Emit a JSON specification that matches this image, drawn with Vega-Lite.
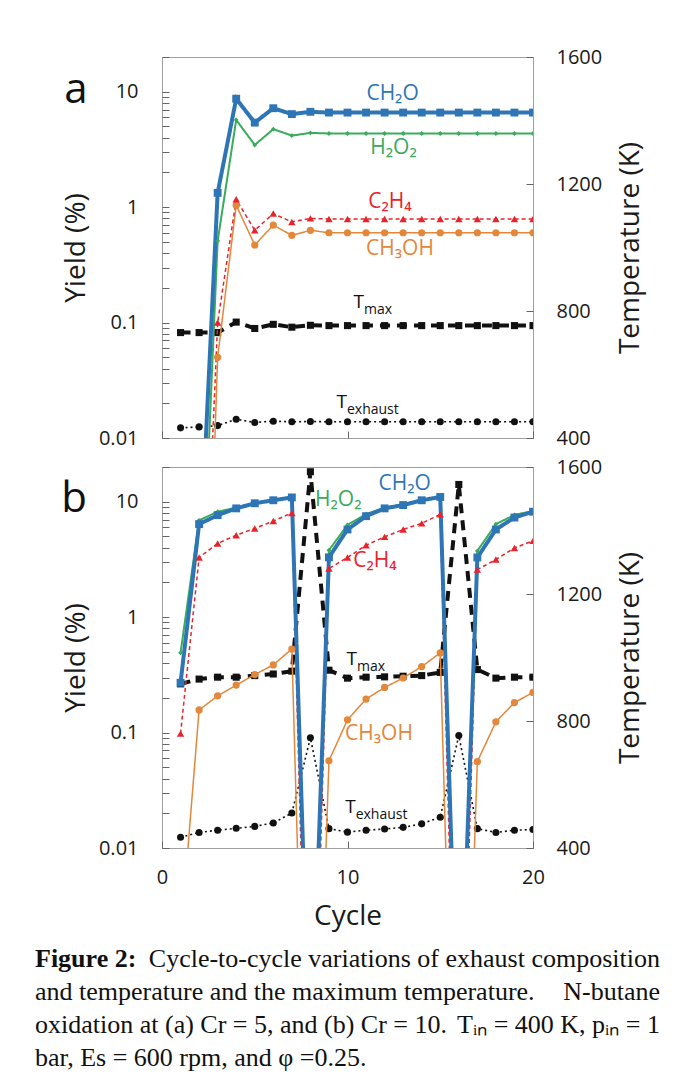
{
  "$schema": "https://vega.github.io/schema/vega-lite/v6.json",
  "background": "white",
  "padding": {"left": 35, "top": 46, "right": 0, "bottom": 0},
  "config": {
    "font": "Open Sans",
    "view": {"stroke": "#a0a0a0", "strokeWidth": 1},
    "legend": {"disable": true},
    "axis": {
      "grid": false, "domain": false, "tickColor": "#666666", "tickWidth": 1, "tickSize": 7, "offset": -7,
      "labelFont": "Open Sans", "labelFontSize": 20, "labelColor": "#1a1a1a", "labelFlush": false, "labelOverlap": false,
      "titleFont": "Open Sans", "titleFontSize": 28, "titleFontWeight": "normal", "titleColor": "#1a1a1a"
    }
  },
  "bounds": "flush",
  "spacing": 29,
  "vconcat": [
    {
      "width": 371, "height": 381,
      "layer": [
        {
          "data": {"name": "temps"},
          "transform": [{"filter": "datum.panel == 'a'"}],
          "encoding": {
            "x": {"field": "cycle", "type": "quantitative", "scale": {"domain": [0, 20], "nice": false}, "axis": {"orient": "bottom", "values": [0, 10, 20], "labels": false, "title": null}},
            "y": {"field": "kelvin", "type": "quantitative", "scale": {"domain": [400, 1600], "nice": false, "zero": false}, "axis": {"orient": "right", "values": [400, 800, 1200, 1600], "format": "d", "title": "Temperature (K)", "titleAngle": 270, "titleBaseline": "top", "labelPadding": 23, "titlePadding": 15}},
            "color": {"field": "series", "type": "nominal", "scale": {"domain": ["CH3OH", "C2H4", "H2O2", "CH2O", "Tmax", "Texhaust"], "range": ["#E3873B", "#E8232B", "#3AAA5C", "#2E75B6", "#111111", "#111111"]}}
          },
          "layer": [
            {"mark": {"type": "line", "clip": true}, "encoding": {
              "strokeWidth": {"condition": [{"test": "datum.series == 'Tmax'", "value": 4}], "value": 1.6},
              "strokeDash": {"condition": [{"test": "datum.series == 'Tmax'", "value": [10, 7]}], "value": [2, 3]}
            }},
            {"mark": {"type": "point", "filled": true, "opacity": 1, "clip": true}, "encoding": {
              "shape": {"condition": [{"test": "datum.series == 'Tmax'", "value": "square"}], "value": "circle"},
              "size": {"value": 50}
            }}
          ]
        },
        {
          "encoding": {
            "x": {"field": "cycle", "type": "quantitative"},
            "y": {"field": "value", "type": "quantitative", "scale": {"type": "log", "domain": [0.01, 20], "nice": false}, "axis": {"orient": "left", "values": [0.01, 0.02, 0.03, 0.04, 0.05, 0.06, 0.07, 0.08, 0.09, 0.1, 0.2, 0.3, 0.4, 0.5, 0.6, 0.7, 0.8, 0.9, 1, 2, 3, 4, 5, 6, 7, 8, 9, 10, 20], "labelExpr": "datum.value == 0.01 ? '0.01' : datum.value == 0.1 ? '0.1' : datum.value == 1 ? '1' : datum.value == 10 ? '10' : ''", "title": "Yield (%)", "labelPadding": 24, "titlePadding": 8}}
          },
          "layer": [
            {"data": {"name": "yields"}, "transform": [{"filter": "datum.panel == 'a'"}], "mark": {"type": "line", "clip": true}, "encoding": {
              "color": {"field": "series", "type": "nominal"},
              "strokeWidth": {"condition": [{"test": "datum.series == 'CH2O'", "value": 4}, {"test": "datum.series == 'H2O2'", "value": 2}], "value": 1.5},
              "strokeDash": {"condition": [{"test": "datum.series == 'C2H4'", "value": [4, 3]}], "value": [1, 0]}
            }},
            {"data": {"name": "yields"}, "transform": [{"filter": "datum.panel == 'a'"}], "mark": {"type": "point", "filled": true, "opacity": 1, "clip": true}, "encoding": {
              "color": {"field": "series", "type": "nominal"},
              "shape": {"condition": [{"test": "datum.series == 'CH2O'", "value": "square"}, {"test": "datum.series == 'C2H4'", "value": "triangle-up"}, {"test": "datum.series == 'H2O2'", "value": "diamond"}], "value": "circle"},
              "size": {"condition": [{"test": "datum.series == 'H2O2'", "value": 24}, {"test": "datum.series == 'CH2O'", "value": 62}, {"test": "datum.series == 'C2H4'", "value": 55}], "value": 52}
            }},
            {"data": {"name": "labels"}, "transform": [{"filter": "datum.panel == 'a' && datum.kind == 'chem'"}], "mark": {"type": "text", "fontSize": 21, "align": "center", "baseline": "middle"}, "encoding": {
              "text": {"field": "text"}, "color": {"field": "series", "type": "nominal"}
            }},
            {"data": {"name": "labels"}, "transform": [{"filter": "datum.panel == 'a' && datum.kind == 'temp'"}], "mark": {"type": "text", "fontSize": 19, "align": "right", "baseline": "middle", "color": "#111111"}, "encoding": {
              "text": {"field": "text"}
            }},
            {"data": {"name": "labels"}, "transform": [{"filter": "datum.panel == 'a' && datum.kind == 'temp'"}], "mark": {"type": "text", "fontSize": 14, "align": "left", "baseline": "middle", "dy": 8, "color": "#111111"}, "encoding": {
              "text": {"field": "sub"}
            }},
            {"data": {"name": "labels"}, "transform": [{"filter": "datum.panel == 'a' && datum.kind == 'panel'"}], "mark": {"type": "text", "fontSize": 42, "align": "center", "baseline": "alphabetic", "color": "#111111"}, "encoding": {
              "text": {"field": "text"}
            }}
          ]
        }
      ],
      "resolve": {"scale": {"y": "independent"}}
    },
    {
      "width": 371, "height": 381,
      "layer": [
        {
          "data": {"name": "temps"},
          "transform": [{"filter": "datum.panel == 'b'"}],
          "encoding": {
            "x": {"field": "cycle", "type": "quantitative", "scale": {"domain": [0, 20], "nice": false}, "axis": {"orient": "bottom", "values": [0, 10, 20], "title": "Cycle", "labelPadding": 19, "titlePadding": 15}},
            "y": {"field": "kelvin", "type": "quantitative", "scale": {"domain": [400, 1600], "nice": false, "zero": false}, "axis": {"orient": "right", "values": [400, 800, 1200, 1600], "format": "d", "title": "Temperature (K)", "titleAngle": 270, "titleBaseline": "top", "labelPadding": 23, "titlePadding": 15}},
            "color": {"field": "series", "type": "nominal", "scale": {"domain": ["CH3OH", "C2H4", "H2O2", "CH2O", "Tmax", "Texhaust"], "range": ["#E3873B", "#E8232B", "#3AAA5C", "#2E75B6", "#111111", "#111111"]}}
          },
          "layer": [
            {"mark": {"type": "line", "clip": true}, "encoding": {
              "strokeWidth": {"condition": [{"test": "datum.series == 'Tmax'", "value": 4}], "value": 1.6},
              "strokeDash": {"condition": [{"test": "datum.series == 'Tmax'", "value": [10, 7]}], "value": [2, 3]}
            }},
            {"mark": {"type": "point", "filled": true, "opacity": 1, "clip": true}, "encoding": {
              "shape": {"condition": [{"test": "datum.series == 'Tmax'", "value": "square"}], "value": "circle"},
              "size": {"value": 50}
            }}
          ]
        },
        {
          "encoding": {
            "x": {"field": "cycle", "type": "quantitative"},
            "y": {"field": "value", "type": "quantitative", "scale": {"type": "log", "domain": [0.01, 20], "nice": false}, "axis": {"orient": "left", "values": [0.01, 0.02, 0.03, 0.04, 0.05, 0.06, 0.07, 0.08, 0.09, 0.1, 0.2, 0.3, 0.4, 0.5, 0.6, 0.7, 0.8, 0.9, 1, 2, 3, 4, 5, 6, 7, 8, 9, 10, 20], "labelExpr": "datum.value == 0.01 ? '0.01' : datum.value == 0.1 ? '0.1' : datum.value == 1 ? '1' : datum.value == 10 ? '10' : ''", "title": "Yield (%)", "labelPadding": 24, "titlePadding": 8}}
          },
          "layer": [
            {"data": {"name": "yields"}, "transform": [{"filter": "datum.panel == 'b'"}], "mark": {"type": "line", "clip": true}, "encoding": {
              "color": {"field": "series", "type": "nominal"},
              "strokeWidth": {"condition": [{"test": "datum.series == 'CH2O'", "value": 4}, {"test": "datum.series == 'H2O2'", "value": 2}], "value": 1.5},
              "strokeDash": {"condition": [{"test": "datum.series == 'C2H4'", "value": [4, 3]}], "value": [1, 0]}
            }},
            {"data": {"name": "yields"}, "transform": [{"filter": "datum.panel == 'b'"}], "mark": {"type": "point", "filled": true, "opacity": 1, "clip": true}, "encoding": {
              "color": {"field": "series", "type": "nominal"},
              "shape": {"condition": [{"test": "datum.series == 'CH2O'", "value": "square"}, {"test": "datum.series == 'C2H4'", "value": "triangle-up"}, {"test": "datum.series == 'H2O2'", "value": "diamond"}], "value": "circle"},
              "size": {"condition": [{"test": "datum.series == 'H2O2'", "value": 24}, {"test": "datum.series == 'CH2O'", "value": 62}, {"test": "datum.series == 'C2H4'", "value": 55}], "value": 52}
            }},
            {"data": {"name": "labels"}, "transform": [{"filter": "datum.panel == 'b' && datum.kind == 'chem'"}], "mark": {"type": "text", "fontSize": 21, "align": "center", "baseline": "middle"}, "encoding": {
              "text": {"field": "text"}, "color": {"field": "series", "type": "nominal"}
            }},
            {"data": {"name": "labels"}, "transform": [{"filter": "datum.panel == 'b' && datum.kind == 'temp'"}], "mark": {"type": "text", "fontSize": 19, "align": "right", "baseline": "middle", "color": "#111111"}, "encoding": {
              "text": {"field": "text"}
            }},
            {"data": {"name": "labels"}, "transform": [{"filter": "datum.panel == 'b' && datum.kind == 'temp'"}], "mark": {"type": "text", "fontSize": 14, "align": "left", "baseline": "middle", "dy": 8, "color": "#111111"}, "encoding": {
              "text": {"field": "sub"}
            }},
            {"data": {"name": "labels"}, "transform": [{"filter": "datum.panel == 'b' && datum.kind == 'panel'"}], "mark": {"type": "text", "fontSize": 42, "align": "center", "baseline": "alphabetic", "color": "#111111"}, "encoding": {
              "text": {"field": "text"}
            }}
          ]
        }
      ],
      "resolve": {"scale": {"y": "independent"}}
    },
    {
      "width": 498, "height": 190,
      "view": {"stroke": null},
      "data": {"name": "caption"},
      "encoding": {
        "x": {"field": "edge", "type": "nominal", "axis": null, "scale": {"type": "point", "domain": ["start", "end"], "range": [-127, 498], "padding": 0}},
        "y": {"field": "line", "type": "ordinal", "axis": null, "scale": {"type": "point", "domain": [1, 2, 3, 4], "range": [82, 181], "padding": 0}},
        "text": {"field": "text"}
      },
      "layer": [
        {"transform": [{"filter": "datum.role == 'heading'"}], "mark": {"type": "text", "align": "left", "baseline": "middle", "font": "Liberation Serif", "fontSize": 26, "fontWeight": "bold", "color": "#111111"}},
        {"transform": [{"filter": "datum.role == 'body' && datum.edge == 'start'"}], "mark": {"type": "text", "align": "left", "baseline": "middle", "font": "Liberation Serif", "fontSize": 26, "color": "#111111"}},
        {"transform": [{"filter": "datum.role == 'body' && datum.edge == 'end'"}], "mark": {"type": "text", "align": "right", "baseline": "middle", "font": "Liberation Serif", "fontSize": 26, "color": "#111111"}}
      ]
    }
  ],
  "datasets": {
    "yields": [
      {"panel": "a", "series": "CH3OH", "cycle": 1, "value": 0.000001}, {"panel": "a", "series": "CH3OH", "cycle": 2, "value": 0.000001}, {"panel": "a", "series": "CH3OH", "cycle": 3, "value": 0.05}, {"panel": "a", "series": "CH3OH", "cycle": 4, "value": 1.04}, {"panel": "a", "series": "CH3OH", "cycle": 5, "value": 0.47}, {"panel": "a", "series": "CH3OH", "cycle": 6, "value": 0.70}, {"panel": "a", "series": "CH3OH", "cycle": 7, "value": 0.57}, {"panel": "a", "series": "CH3OH", "cycle": 8, "value": 0.63}, {"panel": "a", "series": "CH3OH", "cycle": 9, "value": 0.60}, {"panel": "a", "series": "CH3OH", "cycle": 10, "value": 0.60}, {"panel": "a", "series": "CH3OH", "cycle": 11, "value": 0.60}, {"panel": "a", "series": "CH3OH", "cycle": 12, "value": 0.60}, {"panel": "a", "series": "CH3OH", "cycle": 13, "value": 0.60}, {"panel": "a", "series": "CH3OH", "cycle": 14, "value": 0.60}, {"panel": "a", "series": "CH3OH", "cycle": 15, "value": 0.60}, {"panel": "a", "series": "CH3OH", "cycle": 16, "value": 0.60}, {"panel": "a", "series": "CH3OH", "cycle": 17, "value": 0.60}, {"panel": "a", "series": "CH3OH", "cycle": 18, "value": 0.60}, {"panel": "a", "series": "CH3OH", "cycle": 19, "value": 0.60}, {"panel": "a", "series": "CH3OH", "cycle": 20, "value": 0.60},
      {"panel": "a", "series": "C2H4", "cycle": 1, "value": 0.00001}, {"panel": "a", "series": "C2H4", "cycle": 2, "value": 0.00002}, {"panel": "a", "series": "C2H4", "cycle": 3, "value": 0.1}, {"panel": "a", "series": "C2H4", "cycle": 4, "value": 1.17}, {"panel": "a", "series": "C2H4", "cycle": 5, "value": 0.63}, {"panel": "a", "series": "C2H4", "cycle": 6, "value": 0.88}, {"panel": "a", "series": "C2H4", "cycle": 7, "value": 0.745}, {"panel": "a", "series": "C2H4", "cycle": 8, "value": 0.80}, {"panel": "a", "series": "C2H4", "cycle": 9, "value": 0.79}, {"panel": "a", "series": "C2H4", "cycle": 10, "value": 0.79}, {"panel": "a", "series": "C2H4", "cycle": 11, "value": 0.79}, {"panel": "a", "series": "C2H4", "cycle": 12, "value": 0.79}, {"panel": "a", "series": "C2H4", "cycle": 13, "value": 0.79}, {"panel": "a", "series": "C2H4", "cycle": 14, "value": 0.79}, {"panel": "a", "series": "C2H4", "cycle": 15, "value": 0.79}, {"panel": "a", "series": "C2H4", "cycle": 16, "value": 0.79}, {"panel": "a", "series": "C2H4", "cycle": 17, "value": 0.79}, {"panel": "a", "series": "C2H4", "cycle": 18, "value": 0.79}, {"panel": "a", "series": "C2H4", "cycle": 19, "value": 0.79}, {"panel": "a", "series": "C2H4", "cycle": 20, "value": 0.79},
      {"panel": "a", "series": "H2O2", "cycle": 1, "value": 0.0001}, {"panel": "a", "series": "H2O2", "cycle": 2, "value": 0.0001}, {"panel": "a", "series": "H2O2", "cycle": 3, "value": 0.51}, {"panel": "a", "series": "H2O2", "cycle": 4, "value": 5.7}, {"panel": "a", "series": "H2O2", "cycle": 5, "value": 3.46}, {"panel": "a", "series": "H2O2", "cycle": 6, "value": 4.74}, {"panel": "a", "series": "H2O2", "cycle": 7, "value": 4.17}, {"panel": "a", "series": "H2O2", "cycle": 8, "value": 4.4}, {"panel": "a", "series": "H2O2", "cycle": 9, "value": 4.35}, {"panel": "a", "series": "H2O2", "cycle": 10, "value": 4.35}, {"panel": "a", "series": "H2O2", "cycle": 11, "value": 4.35}, {"panel": "a", "series": "H2O2", "cycle": 12, "value": 4.35}, {"panel": "a", "series": "H2O2", "cycle": 13, "value": 4.35}, {"panel": "a", "series": "H2O2", "cycle": 14, "value": 4.35}, {"panel": "a", "series": "H2O2", "cycle": 15, "value": 4.35}, {"panel": "a", "series": "H2O2", "cycle": 16, "value": 4.35}, {"panel": "a", "series": "H2O2", "cycle": 17, "value": 4.35}, {"panel": "a", "series": "H2O2", "cycle": 18, "value": 4.35}, {"panel": "a", "series": "H2O2", "cycle": 19, "value": 4.35}, {"panel": "a", "series": "H2O2", "cycle": 20, "value": 4.35},
      {"panel": "a", "series": "CH2O", "cycle": 1, "value": 0.0001}, {"panel": "a", "series": "CH2O", "cycle": 2, "value": 0.0006}, {"panel": "a", "series": "CH2O", "cycle": 3, "value": 1.33}, {"panel": "a", "series": "CH2O", "cycle": 4, "value": 8.7}, {"panel": "a", "series": "CH2O", "cycle": 5, "value": 5.4}, {"panel": "a", "series": "CH2O", "cycle": 6, "value": 7.2}, {"panel": "a", "series": "CH2O", "cycle": 7, "value": 6.4}, {"panel": "a", "series": "CH2O", "cycle": 8, "value": 6.7}, {"panel": "a", "series": "CH2O", "cycle": 9, "value": 6.6}, {"panel": "a", "series": "CH2O", "cycle": 10, "value": 6.6}, {"panel": "a", "series": "CH2O", "cycle": 11, "value": 6.6}, {"panel": "a", "series": "CH2O", "cycle": 12, "value": 6.6}, {"panel": "a", "series": "CH2O", "cycle": 13, "value": 6.6}, {"panel": "a", "series": "CH2O", "cycle": 14, "value": 6.6}, {"panel": "a", "series": "CH2O", "cycle": 15, "value": 6.6}, {"panel": "a", "series": "CH2O", "cycle": 16, "value": 6.6}, {"panel": "a", "series": "CH2O", "cycle": 17, "value": 6.6}, {"panel": "a", "series": "CH2O", "cycle": 18, "value": 6.6}, {"panel": "a", "series": "CH2O", "cycle": 19, "value": 6.6}, {"panel": "a", "series": "CH2O", "cycle": 20, "value": 6.6},
      {"panel": "b", "series": "CH3OH", "cycle": 1, "value": 0.0016}, {"panel": "b", "series": "CH3OH", "cycle": 2, "value": 0.157}, {"panel": "b", "series": "CH3OH", "cycle": 3, "value": 0.208}, {"panel": "b", "series": "CH3OH", "cycle": 4, "value": 0.258}, {"panel": "b", "series": "CH3OH", "cycle": 5, "value": 0.318}, {"panel": "b", "series": "CH3OH", "cycle": 6, "value": 0.386}, {"panel": "b", "series": "CH3OH", "cycle": 7, "value": 0.53}, {"panel": "b", "series": "CH3OH", "cycle": 8, "value": 0.000001}, {"panel": "b", "series": "CH3OH", "cycle": 9, "value": 0.057}, {"panel": "b", "series": "CH3OH", "cycle": 10, "value": 0.129}, {"panel": "b", "series": "CH3OH", "cycle": 11, "value": 0.195}, {"panel": "b", "series": "CH3OH", "cycle": 12, "value": 0.246}, {"panel": "b", "series": "CH3OH", "cycle": 13, "value": 0.297}, {"panel": "b", "series": "CH3OH", "cycle": 14, "value": 0.373}, {"panel": "b", "series": "CH3OH", "cycle": 15, "value": 0.49}, {"panel": "b", "series": "CH3OH", "cycle": 16, "value": 0.000001}, {"panel": "b", "series": "CH3OH", "cycle": 17, "value": 0.056}, {"panel": "b", "series": "CH3OH", "cycle": 18, "value": 0.124}, {"panel": "b", "series": "CH3OH", "cycle": 19, "value": 0.182}, {"panel": "b", "series": "CH3OH", "cycle": 20, "value": 0.223},
      {"panel": "b", "series": "C2H4", "cycle": 1, "value": 0.098}, {"panel": "b", "series": "C2H4", "cycle": 2, "value": 3.29}, {"panel": "b", "series": "C2H4", "cycle": 3, "value": 4.35}, {"panel": "b", "series": "C2H4", "cycle": 4, "value": 5.13}, {"panel": "b", "series": "C2H4", "cycle": 5, "value": 5.87}, {"panel": "b", "series": "C2H4", "cycle": 6, "value": 6.8}, {"panel": "b", "series": "C2H4", "cycle": 7, "value": 8.0}, {"panel": "b", "series": "C2H4", "cycle": 8, "value": 0.00001}, {"panel": "b", "series": "C2H4", "cycle": 9, "value": 2.64}, {"panel": "b", "series": "C2H4", "cycle": 10, "value": 3.29}, {"panel": "b", "series": "C2H4", "cycle": 11, "value": 4.2}, {"panel": "b", "series": "C2H4", "cycle": 12, "value": 4.96}, {"panel": "b", "series": "C2H4", "cycle": 13, "value": 5.75}, {"panel": "b", "series": "C2H4", "cycle": 14, "value": 6.5}, {"panel": "b", "series": "C2H4", "cycle": 15, "value": 7.77}, {"panel": "b", "series": "C2H4", "cycle": 16, "value": 0.00001}, {"panel": "b", "series": "C2H4", "cycle": 17, "value": 2.58}, {"panel": "b", "series": "C2H4", "cycle": 18, "value": 3.16}, {"panel": "b", "series": "C2H4", "cycle": 19, "value": 3.98}, {"panel": "b", "series": "C2H4", "cycle": 20, "value": 4.58},
      {"panel": "b", "series": "H2O2", "cycle": 1, "value": 0.49}, {"panel": "b", "series": "H2O2", "cycle": 2, "value": 6.9}, {"panel": "b", "series": "H2O2", "cycle": 3, "value": 8.2}, {"panel": "b", "series": "H2O2", "cycle": 4, "value": 8.9}, {"panel": "b", "series": "H2O2", "cycle": 5, "value": 9.7}, {"panel": "b", "series": "H2O2", "cycle": 6, "value": 10.3}, {"panel": "b", "series": "H2O2", "cycle": 7, "value": 10.9}, {"panel": "b", "series": "H2O2", "cycle": 8, "value": 0.0001}, {"panel": "b", "series": "H2O2", "cycle": 9, "value": 3.8}, {"panel": "b", "series": "H2O2", "cycle": 10, "value": 6.3}, {"panel": "b", "series": "H2O2", "cycle": 11, "value": 7.8}, {"panel": "b", "series": "H2O2", "cycle": 12, "value": 8.9}, {"panel": "b", "series": "H2O2", "cycle": 13, "value": 9.5}, {"panel": "b", "series": "H2O2", "cycle": 14, "value": 10.3}, {"panel": "b", "series": "H2O2", "cycle": 15, "value": 11.0}, {"panel": "b", "series": "H2O2", "cycle": 16, "value": 0.0001}, {"panel": "b", "series": "H2O2", "cycle": 17, "value": 3.75}, {"panel": "b", "series": "H2O2", "cycle": 18, "value": 6.4}, {"panel": "b", "series": "H2O2", "cycle": 19, "value": 7.7}, {"panel": "b", "series": "H2O2", "cycle": 20, "value": 8.3},
      {"panel": "b", "series": "CH2O", "cycle": 1, "value": 0.27}, {"panel": "b", "series": "CH2O", "cycle": 2, "value": 6.4}, {"panel": "b", "series": "CH2O", "cycle": 3, "value": 7.66}, {"panel": "b", "series": "CH2O", "cycle": 4, "value": 8.76}, {"panel": "b", "series": "CH2O", "cycle": 5, "value": 9.7}, {"panel": "b", "series": "CH2O", "cycle": 6, "value": 10.3}, {"panel": "b", "series": "CH2O", "cycle": 7, "value": 10.9}, {"panel": "b", "series": "CH2O", "cycle": 8, "value": 0.0001}, {"panel": "b", "series": "CH2O", "cycle": 9, "value": 3.3}, {"panel": "b", "series": "CH2O", "cycle": 10, "value": 5.75}, {"panel": "b", "series": "CH2O", "cycle": 11, "value": 7.5}, {"panel": "b", "series": "CH2O", "cycle": 12, "value": 8.76}, {"panel": "b", "series": "CH2O", "cycle": 13, "value": 9.36}, {"panel": "b", "series": "CH2O", "cycle": 14, "value": 10.3}, {"panel": "b", "series": "CH2O", "cycle": 15, "value": 11.0}, {"panel": "b", "series": "CH2O", "cycle": 16, "value": 0.0001}, {"panel": "b", "series": "CH2O", "cycle": 17, "value": 3.29}, {"panel": "b", "series": "CH2O", "cycle": 18, "value": 5.75}, {"panel": "b", "series": "CH2O", "cycle": 19, "value": 7.3}, {"panel": "b", "series": "CH2O", "cycle": 20, "value": 8.2}
    ],
    "temps": [
      {"panel": "a", "series": "Tmax", "cycle": 1, "kelvin": 732}, {"panel": "a", "series": "Tmax", "cycle": 2, "kelvin": 732}, {"panel": "a", "series": "Tmax", "cycle": 3, "kelvin": 732}, {"panel": "a", "series": "Tmax", "cycle": 4, "kelvin": 765}, {"panel": "a", "series": "Tmax", "cycle": 5, "kelvin": 745}, {"panel": "a", "series": "Tmax", "cycle": 6, "kelvin": 758}, {"panel": "a", "series": "Tmax", "cycle": 7, "kelvin": 749}, {"panel": "a", "series": "Tmax", "cycle": 8, "kelvin": 755}, {"panel": "a", "series": "Tmax", "cycle": 9, "kelvin": 754}, {"panel": "a", "series": "Tmax", "cycle": 10, "kelvin": 754}, {"panel": "a", "series": "Tmax", "cycle": 11, "kelvin": 754}, {"panel": "a", "series": "Tmax", "cycle": 12, "kelvin": 754}, {"panel": "a", "series": "Tmax", "cycle": 13, "kelvin": 754}, {"panel": "a", "series": "Tmax", "cycle": 14, "kelvin": 754}, {"panel": "a", "series": "Tmax", "cycle": 15, "kelvin": 754}, {"panel": "a", "series": "Tmax", "cycle": 16, "kelvin": 754}, {"panel": "a", "series": "Tmax", "cycle": 17, "kelvin": 754}, {"panel": "a", "series": "Tmax", "cycle": 18, "kelvin": 754}, {"panel": "a", "series": "Tmax", "cycle": 19, "kelvin": 754}, {"panel": "a", "series": "Tmax", "cycle": 20, "kelvin": 754},
      {"panel": "a", "series": "Texhaust", "cycle": 1, "kelvin": 432}, {"panel": "a", "series": "Texhaust", "cycle": 2, "kelvin": 435}, {"panel": "a", "series": "Texhaust", "cycle": 3, "kelvin": 439}, {"panel": "a", "series": "Texhaust", "cycle": 4, "kelvin": 459}, {"panel": "a", "series": "Texhaust", "cycle": 5, "kelvin": 449}, {"panel": "a", "series": "Texhaust", "cycle": 6, "kelvin": 453}, {"panel": "a", "series": "Texhaust", "cycle": 7, "kelvin": 451}, {"panel": "a", "series": "Texhaust", "cycle": 8, "kelvin": 452}, {"panel": "a", "series": "Texhaust", "cycle": 9, "kelvin": 451}, {"panel": "a", "series": "Texhaust", "cycle": 10, "kelvin": 451}, {"panel": "a", "series": "Texhaust", "cycle": 11, "kelvin": 451}, {"panel": "a", "series": "Texhaust", "cycle": 12, "kelvin": 451}, {"panel": "a", "series": "Texhaust", "cycle": 13, "kelvin": 451}, {"panel": "a", "series": "Texhaust", "cycle": 14, "kelvin": 451}, {"panel": "a", "series": "Texhaust", "cycle": 15, "kelvin": 451}, {"panel": "a", "series": "Texhaust", "cycle": 16, "kelvin": 451}, {"panel": "a", "series": "Texhaust", "cycle": 17, "kelvin": 451}, {"panel": "a", "series": "Texhaust", "cycle": 18, "kelvin": 451}, {"panel": "a", "series": "Texhaust", "cycle": 19, "kelvin": 451}, {"panel": "a", "series": "Texhaust", "cycle": 20, "kelvin": 451},
      {"panel": "b", "series": "Tmax", "cycle": 1, "kelvin": 917}, {"panel": "b", "series": "Tmax", "cycle": 2, "kelvin": 932}, {"panel": "b", "series": "Tmax", "cycle": 3, "kelvin": 938}, {"panel": "b", "series": "Tmax", "cycle": 4, "kelvin": 938}, {"panel": "b", "series": "Tmax", "cycle": 5, "kelvin": 943}, {"panel": "b", "series": "Tmax", "cycle": 6, "kelvin": 948}, {"panel": "b", "series": "Tmax", "cycle": 7, "kelvin": 957}, {"panel": "b", "series": "Tmax", "cycle": 8, "kelvin": 1585}, {"panel": "b", "series": "Tmax", "cycle": 9, "kelvin": 960}, {"panel": "b", "series": "Tmax", "cycle": 10, "kelvin": 935}, {"panel": "b", "series": "Tmax", "cycle": 11, "kelvin": 938}, {"panel": "b", "series": "Tmax", "cycle": 12, "kelvin": 939}, {"panel": "b", "series": "Tmax", "cycle": 13, "kelvin": 941}, {"panel": "b", "series": "Tmax", "cycle": 14, "kelvin": 943}, {"panel": "b", "series": "Tmax", "cycle": 15, "kelvin": 953}, {"panel": "b", "series": "Tmax", "cycle": 16, "kelvin": 1545}, {"panel": "b", "series": "Tmax", "cycle": 17, "kelvin": 962}, {"panel": "b", "series": "Tmax", "cycle": 18, "kelvin": 935}, {"panel": "b", "series": "Tmax", "cycle": 19, "kelvin": 938}, {"panel": "b", "series": "Tmax", "cycle": 20, "kelvin": 938},
      {"panel": "b", "series": "Texhaust", "cycle": 1, "kelvin": 434}, {"panel": "b", "series": "Texhaust", "cycle": 2, "kelvin": 449}, {"panel": "b", "series": "Texhaust", "cycle": 3, "kelvin": 456}, {"panel": "b", "series": "Texhaust", "cycle": 4, "kelvin": 462}, {"panel": "b", "series": "Texhaust", "cycle": 5, "kelvin": 468}, {"panel": "b", "series": "Texhaust", "cycle": 6, "kelvin": 479}, {"panel": "b", "series": "Texhaust", "cycle": 7, "kelvin": 510}, {"panel": "b", "series": "Texhaust", "cycle": 8, "kelvin": 747}, {"panel": "b", "series": "Texhaust", "cycle": 9, "kelvin": 461}, {"panel": "b", "series": "Texhaust", "cycle": 10, "kelvin": 450}, {"panel": "b", "series": "Texhaust", "cycle": 11, "kelvin": 456}, {"panel": "b", "series": "Texhaust", "cycle": 12, "kelvin": 460}, {"panel": "b", "series": "Texhaust", "cycle": 13, "kelvin": 465}, {"panel": "b", "series": "Texhaust", "cycle": 14, "kelvin": 476}, {"panel": "b", "series": "Texhaust", "cycle": 15, "kelvin": 497}, {"panel": "b", "series": "Texhaust", "cycle": 16, "kelvin": 754}, {"panel": "b", "series": "Texhaust", "cycle": 17, "kelvin": 461}, {"panel": "b", "series": "Texhaust", "cycle": 18, "kelvin": 449}, {"panel": "b", "series": "Texhaust", "cycle": 19, "kelvin": 456}, {"panel": "b", "series": "Texhaust", "cycle": 20, "kelvin": 458}
    ],
    "labels": [
      {"panel": "a", "kind": "chem", "series": "CH2O", "text": "CH₂O", "cycle": 12.43, "value": 9.6},
      {"panel": "a", "kind": "chem", "series": "H2O2", "text": "H₂O₂", "cycle": 12.48, "value": 3.26},
      {"panel": "a", "kind": "chem", "series": "C2H4", "text": "C₂H₄", "cycle": 12.29, "value": 1.1},
      {"panel": "a", "kind": "chem", "series": "CH3OH", "text": "CH₃OH", "cycle": 12.83, "value": 0.433},
      {"panel": "a", "kind": "temp", "series": "Tmax", "text": "T", "sub": "max", "cycle": 10.89, "value": 0.15},
      {"panel": "a", "kind": "temp", "series": "Texhaust", "text": "T", "sub": "exhaust", "cycle": 9.97, "value": 0.0206},
      {"panel": "a", "kind": "panel", "series": "none", "text": "a", "cycle": -4.64, "value": 8.0},
      {"panel": "b", "kind": "chem", "series": "CH2O", "text": "CH₂O", "cycle": 13.08, "value": 14.3},
      {"panel": "b", "kind": "chem", "series": "H2O2", "text": "H₂O₂", "cycle": 9.5, "value": 10.3},
      {"panel": "b", "kind": "chem", "series": "C2H4", "text": "C₂H₄", "cycle": 11.48, "value": 3.06},
      {"panel": "b", "kind": "chem", "series": "CH3OH", "text": "CH₃OH", "cycle": 11.7, "value": 0.0975},
      {"panel": "b", "kind": "temp", "series": "Tmax", "text": "T", "sub": "max", "cycle": 10.51, "value": 0.437},
      {"panel": "b", "kind": "temp", "series": "Texhaust", "text": "T", "sub": "exhaust", "cycle": 10.44, "value": 0.0226},
      {"panel": "b", "kind": "panel", "series": "none", "text": "b", "cycle": -4.74, "value": 8.2}
    ],
    "caption": [
      {"line": 1, "edge": "start", "role": "heading", "text": "Figure 2:"},
      {"line": 1, "edge": "end", "role": "body", "text": "Cycle-to-cycle variations of exhaust composition"},
      {"line": 2, "edge": "start", "role": "body", "text": "and temperature and the maximum temperature."},
      {"line": 2, "edge": "end", "role": "body", "text": "N-butane"},
      {"line": 3, "edge": "start", "role": "body", "text": "oxidation at (a) Cr = 5, and (b) Cr = 10."},
      {"line": 3, "edge": "end", "role": "body", "text": "Tᵢₙ = 400 K, pᵢₙ = 1"},
      {"line": 4, "edge": "start", "role": "body", "text": "bar, Es = 600 rpm, and φ =0.25."}
    ]
  }
}
